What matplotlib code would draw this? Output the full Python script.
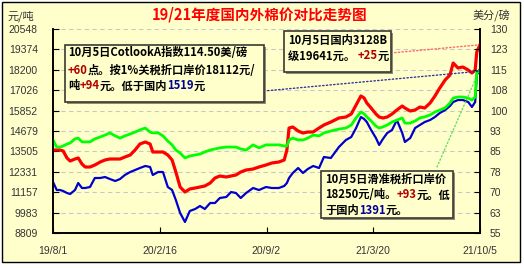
import matplotlib
matplotlib.use('Agg')
import matplotlib.pyplot as plt
from matplotlib.patches import Rectangle
import pandas as pd

plt.rcParams['font.family'] = ['Noto Sans CJK SC', 'DejaVu Sans']

# ---- data ----
base_date = '2019-08-01'
day_offset = [0, 7, 13, 19, 26, 32, 41, 47, 54, 60,
              69, 78, 88, 97, 106, 116, 125, 134, 144, 153,
              162, 172, 181, 186, 196, 205, 214, 222, 229, 237,
              246, 255, 265, 274, 283, 293, 302, 311, 323, 332,
              341, 350, 360, 373, 384, 397, 408, 421, 431, 436,
              440, 447, 457, 466, 475, 485, 496, 505, 518, 533,
              546, 556, 565, 574, 580, 585, 593, 602, 608, 615,
              623, 632, 641, 651, 656, 666, 675, 684, 693, 703,
              712, 721, 731, 740, 746, 755, 764, 774, 781, 787,
              790, 796]

# domestic 3128B price, yuan/ton (left axis)
domestic = [13585, 13585, 13585, 13528, 13125, 12952, 13067, 13125, 12780, 12607,
            12607, 12722, 12895, 13010, 13067, 13067, 13067, 13182, 13298, 13585,
            13930, 14046, 13930, 13470, 13470, 13470, 13298, 13010, 12319, 11456,
            11168, 11341, 11398, 11456, 11514, 11686, 11974, 12089, 12032, 12089,
            12147, 12319, 12434, 12492, 12607, 12722, 12837, 12895, 13010, 13585,
            14851, 14909, 14678, 14563, 14621, 14621, 14851, 15024, 15196, 15427,
            15484, 15657, 16175, 16693, 16577, 16290, 16002, 15657, 15484, 15427,
            15484, 15657, 15887, 16117, 16002, 15829, 15887, 16060, 16002, 16290,
            16693, 17153, 17613, 17901, 18591, 18304, 18361, 18189, 18016, 18189,
            19225, 19641]

# sliding-tariff landed price, yuan/ton (left axis)
sliding = [11744, 11283, 11283, 11226, 11111, 11053, 11283, 11686, 11398, 11398,
           11456, 11974, 11974, 12032, 11916, 11801, 11916, 12147, 12319, 12434,
           12549, 12665, 12607, 12147, 12319, 12319, 11456, 11283, 10708, 9960,
           9442, 10075, 10190, 10363, 10190, 10535, 10535, 10823, 10881, 11168,
           11111, 10823, 11111, 11398, 11283, 11456, 11398, 11398, 11514, 11686,
           11974, 12262, 12549, 12262, 12492, 12665, 12549, 13182, 13125, 13758,
           14161, 14333, 14851, 15484, 15369, 15196, 14736, 14276, 13873, 14218,
           14563, 14736, 15312, 14563, 14046, 14276, 14851, 15024, 15196, 15312,
           15484, 15714, 15887, 16117, 16347, 16462, 16462, 16347, 16060, 16347,
           17901, 18250]

# Cotlook A index, US cents/lb (right axis)
cotlook = [89.2, 86.6, 86.6, 87.0, 87.7, 88.1, 89.6, 89.9, 88.5, 88.5,
           88.5, 89.6, 90.3, 91.0, 91.8, 90.7, 89.9, 90.7, 91.4, 92.1,
           92.9, 93.6, 92.1, 91.8, 91.8, 90.7, 88.8, 87.4, 85.5, 84.4,
           82.6, 83.3, 83.7, 84.0, 84.8, 85.5, 85.9, 86.3, 86.6, 86.6,
           86.6, 85.9, 85.5, 87.4, 86.3, 87.4, 87.4, 87.4, 87.0, 87.0,
           89.2, 89.9, 89.2, 89.2, 89.9, 91.0, 90.7, 91.8, 92.5, 93.2,
           93.6, 94.7, 97.3, 99.5, 98.8, 97.7, 96.2, 94.3, 93.6, 94.0,
           94.7, 95.8, 96.5, 97.3, 95.4, 95.4, 96.2, 97.3, 97.7, 98.4,
           99.5, 100.2, 101.0, 102.8, 104.6, 105.0, 105.0, 104.6, 103.9, 105.0,
           114.2, 114.5]

tick_dates = ['2019-08-01', '2020-02-16', '2020-09-02', '2021-03-20', '2021-10-05']
tick_labels = ['19/8/1', '20/2/16', '20/9/2', '21/3/20', '21/10/5']
left_ticks = [8809, 9983, 11157, 12331, 13505, 14679, 15852, 17026, 18200, 19374, 20548]
right_ticks = [55, 62.5, 70, 77.5, 85, 92.5, 100, 107.5, 115, 122.5, 130]
right_tick_labels = ['55', '63', '70', '78', '85', '93', '100', '108', '115', '123', '130']

title = '19/21年度国内外棉价对比走势图'

# ---- figure ----
W, H = 524, 268
bg = '#FFFFCC'
darkred = '#B00000'
darkblue = '#000099'

fig = plt.figure(figsize=(W / 100, H / 100), dpi=100, facecolor='white')


def fx(x):
    return x / W


def fy(y):
    return 1 - y / H


# outer frame
fig.add_artist(Rectangle((fx(2), fy(262)), fx(518), 260 / H, transform=fig.transFigure,
                         facecolor=bg, edgecolor='black', lw=1.0, zorder=-5))

ax = fig.add_axes([fx(53), fy(233), (480 - 53) / W, (233 - 29) / H])
ax.set_facecolor(bg)
ax.set_axisbelow(True)

dates = pd.to_datetime(base_date) + pd.to_timedelta(day_offset, unit='D')
ax.plot(dates, domestic, color='#FF0000', lw=2.3, zorder=3)
ax.plot(dates, sliding, color='#0000CC', lw=1.6, zorder=2)

ax2 = ax.twinx()
ax2.plot(dates, cotlook, color='#00FF00', lw=2.0)

xt = pd.to_datetime(tick_dates)
ax.set_xlim(xt[0], xt[-1])
ax.set_xticks(xt)
ax.set_xticklabels(tick_labels)
ax.set_ylim(left_ticks[0], left_ticks[-1])
ax.set_yticks(left_ticks)
ax.set_yticklabels([str(v) for v in left_ticks])
ax2.set_ylim(right_ticks[0], right_ticks[-1])
ax2.set_yticks(right_ticks)
ax2.set_yticklabels(right_tick_labels)

ax.grid(axis='y', color='#C8C8C8', ls=(0, (4, 3)), lw=0.8)
for a in (ax, ax2):
    a.spines['top'].set_visible(False)
    for s in ('left', 'right', 'bottom'):
        a.spines[s].set_linewidth(1.2)
ax.tick_params(axis='y', direction='in', length=4, pad=11, labelsize=7.5,
               labelcolor='#333333', labelfontfamily='Liberation Sans')
ax.tick_params(axis='x', direction='in', length=4, pad=9, labelsize=7.5,
               labelcolor='#333333', labelfontfamily='Liberation Sans')
ax2.tick_params(axis='y', direction='in', length=4, pad=7, labelsize=7.5,
                labelcolor='#333333', labelfontfamily='Liberation Sans')

fig.text(fx(260), fy(15), title, color='#FF0000', fontsize=10.5, fontweight='bold',
         ha='center', va='center')
fig.text(fx(8), fy(16), '元/吨', color='#333333', fontsize=8, ha='left', va='center')
fig.text(fx(473), fy(16), '美分/磅', color='#333333', fontsize=8, ha='left', va='center')

# dotted connectors from the notes to the last points
end = dates[-1]
ax.annotate('', xy=(end, domestic[-1]), xytext=(391, H - 53), textcoords='figure pixels',
            arrowprops=dict(arrowstyle='-', ls=':', color='#FF6666', lw=1.0, shrinkA=0, shrinkB=0))
ax2.annotate('', xy=(end, cotlook[-1]), xytext=(264, H - 91), textcoords='figure pixels',
             arrowprops=dict(arrowstyle='-', ls=':', color='#333399', lw=1.0, shrinkA=0, shrinkB=0))
ax.annotate('', xy=(end, sliding[-1]), xytext=(437, H - 167), textcoords='figure pixels',
            arrowprops=dict(arrowstyle='-', ls=':', color='#66DD66', lw=1.0, shrinkA=0, shrinkB=0))

renderer = fig.canvas.get_renderer()


def note_box(x0, y0, x1, y1):
    fig.add_artist(Rectangle((fx(x0 + 2), fy(y1 + 2)), (x1 - x0) / W, (y1 - y0) / H,
                             transform=fig.transFigure, facecolor='#8C8C7A',
                             edgecolor='none', zorder=5))
    fig.add_artist(Rectangle((fx(x0), fy(y1)), (x1 - x0) / W, (y1 - y0) / H,
                             transform=fig.transFigure, facecolor=bg,
                             edgecolor='#3A3A30', lw=1.2, zorder=6))


def note_line(x, y, parts):
    for s, c in parts:
        t = fig.text(fx(x), fy(y), s, color=c, fontsize=8.1, fontweight='bold',
                     ha='left', va='center', zorder=7)
        x += t.get_window_extent(renderer).width


note_box(65, 45, 264, 102)
note_line(68, 53, [('10月5日CotlookA指数114.50美/磅', 'black')])
note_line(68, 70, [('+60', darkred), ('点。按1%关税折口岸价18112元/', 'black')])
note_line(68, 86, [('吨', 'black'), ('+94', darkred), ('元。低于国内', 'black'),
                   ('1519', darkblue), ('元', 'black')])

note_box(284, 31, 391, 72)
note_line(288, 40, [('10月5日国内3128B', 'black')])
note_line(288, 56, [('级19641元。 ', 'black'), ('+25', darkred), ('元', 'black')])

note_box(321, 171, 453, 218)
note_line(325, 179, [('10月5日滑准税折口岸价', 'black')])
note_line(325, 195, [('18250元/吨。', 'black'), ('+93', darkred), ('元。低', 'black')])
note_line(325, 210, [('于国内', 'black'), ('1391', darkblue), ('元。', 'black')])

fig.savefig('out.png', dpi=100, facecolor=fig.get_facecolor())
